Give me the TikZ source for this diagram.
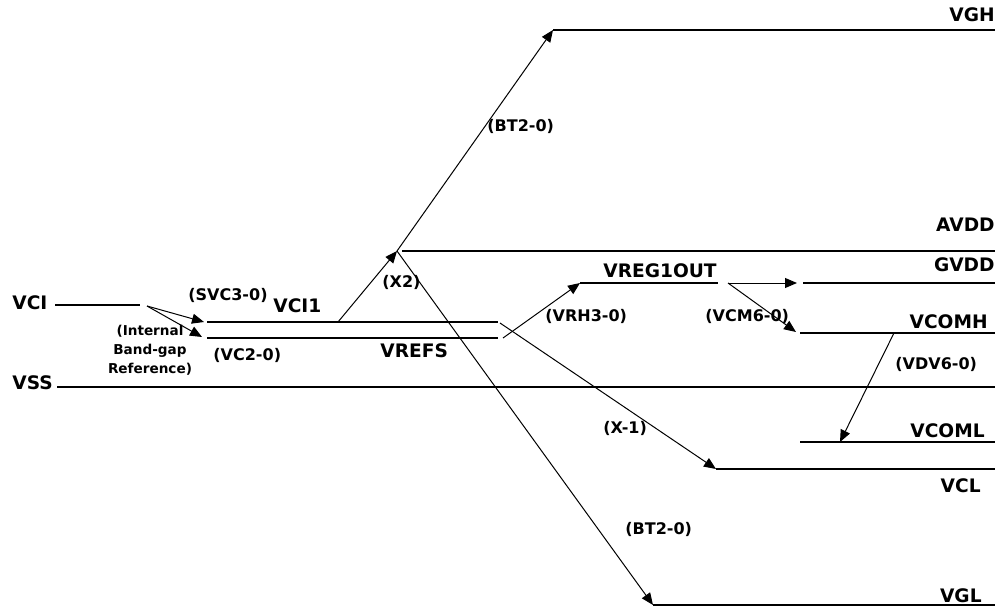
\documentclass[tikz,border=0pt]{standalone}
\usepackage{fontspec}
\setmainfont{DejaVu Sans}
\usetikzlibrary{arrows.meta}
\begin{document}
\begin{tikzpicture}[x=0.5pt, y=-0.5pt,
  rail/.style={line width=1.2pt},
  feed/.style={line width=0.5pt, -{Triangle[length=6pt,width=5pt]}},
  railname/.style={font=\fontsize{9.3}{11}\selectfont\bfseries, inner sep=0pt},
  setting/.style={font=\fontsize{8}{10}\selectfont\bfseries, inner sep=0pt}]
  \useasboundingbox (0,0) rectangle (1000,609);
  % rail end points
  \coordinate (vgh-l) at (553,30);    \coordinate (vgh-r) at (995,30);
  \coordinate (avdd-l) at (402,251);  \coordinate (avdd-r) at (995,251);
  \coordinate (vreg-l) at (580,283);  \coordinate (vreg-r) at (718,283);
  \coordinate (gvdd-l) at (803,283);  \coordinate (gvdd-r) at (995,283);
  \coordinate (vcomh-l) at (800,333); \coordinate (vcomh-r) at (995,333);
  \coordinate (vcoml-l) at (800,442); \coordinate (vcoml-r) at (995,442);
  \coordinate (vcl-l) at (716,469);   \coordinate (vcl-r) at (995,469);
  \coordinate (vgl-l) at (653,605);   \coordinate (vgl-r) at (995,605);
  \coordinate (vss-l) at (57,387);    \coordinate (vss-r) at (995,387);
  \coordinate (vci-l) at (55,305);    \coordinate (vci-r) at (140,305);
  \coordinate (vci1-l) at (207,322);  \coordinate (vci1-r) at (498,322);
  \coordinate (vrefs-l) at (207,338); \coordinate (vrefs-r) at (498,338);
  \foreach \r in {vgh,avdd,vreg,gvdd,vcomh,vcoml,vcl,vgl,vss,vci,vci1,vrefs}
    \draw[rail] (\r-l) -- (\r-r);
  % arrow ends
  \coordinate (bgref) at (147,306);
  \coordinate (vci1-in) at (204,322);
  \coordinate (vrefs-in) at (202,337);
  \coordinate (vci1-tap) at (338,322);
  \coordinate (x2) at (397,251);
  \coordinate (vci1-out) at (500,323);
  \coordinate (vrefs-out) at (503,338);
  \coordinate (vreg-out) at (728,283);
  \coordinate (gvdd-in) at (797,283);
  \coordinate (vcomh-in) at (796,332);
  \coordinate (vcomh-tap) at (894,333);
  \coordinate (vcoml-tap) at (840,442);
  \draw[feed] (bgref) -- (vci1-in);
  \draw[feed] (bgref) -- (vrefs-in);
  \draw[feed] (vci1-tap) -- (x2);
  \draw[feed] (x2) -- (vgh-l);
  \draw[feed] (x2) -- (vgl-l);
  \draw[feed] (vrefs-out) -- (vreg-l);
  \draw[feed] (vci1-out) -- (vcl-l);
  \draw[feed] (vreg-out) -- (gvdd-in);
  \draw[feed] (vreg-out) -- (vcomh-in);
  \draw[feed] (vcomh-tap) -- (vcoml-tap);
  % rail names
  \node[railname, anchor=base east] (vgh) at (995,22) {VGH};
  \node[railname, anchor=base east] (avdd) at (995,232) {AVDD};
  \node[railname, anchor=base east] (gvdd) at (995,271) {GVDD};
  \node[railname, anchor=base west] (vreg) at (603,278) {VREG1OUT};
  \node[railname, anchor=base east] (vcomh) at (988,328) {VCOMH};
  \node[railname, anchor=base east] (vcoml) at (985,437) {VCOML};
  \node[railname, anchor=base east] (vcl) at (981,492) {VCL};
  \node[railname, anchor=base east] (vgl) at (982,602) {VGL};
  \node[railname, anchor=base west] (vci) at (12,309) {VCI};
  \node[railname, anchor=base west] (vss) at (12,389) {VSS};
  \node[railname, anchor=base west] (vci1) at (273,312) {VCI1};
  \node[railname, anchor=base west] (vrefs) at (380,357) {VREFS};
  % register settings
  \node[setting, anchor=base west] (svc) at (188,300) {(SVC3-0)};
  \node[setting, anchor=base west] (vc2) at (213,360) {(VC2-0)};
  \node[setting, anchor=base west] (xtwo) at (382,287) {(X2)};
  \node[setting, anchor=base west] (bth) at (487,132) {(BT2-0)};
  \node[setting, anchor=base west] (btl) at (625,534) {(BT2-0)};
  \node[setting, anchor=base west] (vrh) at (545,321) {(VRH3-0)};
  \node[setting, anchor=base west] (xm1) at (603,433) {(X-1)};
  \node[setting, anchor=base west] (vcm) at (705,321) {(VCM6-0)};
  \node[setting, anchor=base west] (vdv) at (895,369) {(VDV6-0)};
  \node[setting, font=\fontsize{6.8}{9.5}\selectfont\bfseries, align=center]
    (bandgap) at (150,350) {(Internal\\Band-gap\\Reference)};
\end{tikzpicture}
\end{document}
